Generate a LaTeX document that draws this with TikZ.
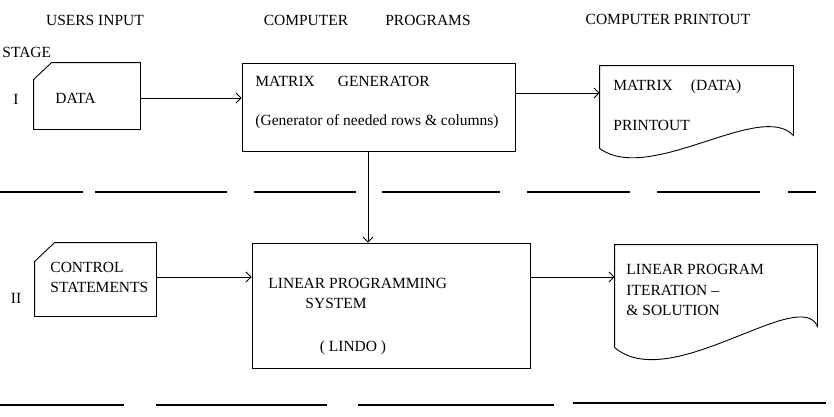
\documentclass[tikz,border=0pt]{standalone}
\usepackage{fontspec}
\setmainfont{Liberation Serif}
\usepackage{tikz}
\usetikzlibrary{arrows.meta, positioning}

\begin{document}
\begin{tikzpicture}[
  x=1pt, y=-1pt,
  line width=0.9pt,
  txt/.style={inner sep=0pt, font=\fontsize{15.5}{20}\selectfont, align=left},
  head/.style={txt},
  outline/.style={draw=none, inner sep=0pt},
  prog/.style={draw, inner sep=0pt},
  rule/.style={line width=1.1pt},
  arr/.style={-{Straight Barb[length=5pt, width=10pt]}}]
\useasboundingbox (0,0) rectangle (834,416);
\node[head] (users) at (95,20) {USERS INPUT};
\node[head] (comp) at (306,20) {COMPUTER};
\node[head] (progs) at (428,20) {PROGRAMS};
\node[head] (printhd) at (668,19) {COMPUTER PRINTOUT};
\node[txt, anchor=west] (stage) at (2,52) {STAGE};
\node[txt] (one) at (16,99) {I};
\node[txt] (two) at (16,298) {II};
\node[outline, minimum width=106pt, minimum height=66pt] (data) at (87,96) {};
\draw ([yshift=-17pt]data.north west) -- ([xshift=18pt]data.north west) -- (data.north east)
  -- (data.south east) -- (data.south west) -- cycle;
\node[txt, anchor=west] (datatxt) at (55,98) {DATA};
\node[prog, minimum width=273pt, minimum height=88pt] (matgen) at (378.5,107) {};
\node[txt, anchor=west] (matgentxt) at (255,81) {MATRIX\hspace{23pt}GENERATOR};
\node[txt, anchor=west] (matgensub) at (255,122) {(Generator of needed rows \& columns)};
\node[outline, minimum width=193pt, minimum height=82pt] (matprint) at (696.5,107) {};
\draw (matprint.south west) -- (matprint.north west) -- (matprint.north east)
  -- ([yshift=13pt]matprint.south east) .. controls (760,100) and (650,185) .. (matprint.south west);
\node[txt, anchor=west] (matprinttxt) at (613,87) {MATRIX\hspace{18pt}(DATA)};
\node[txt, anchor=west] (matprintsub) at (613,125) {PRINTOUT};
\node[outline, minimum width=121pt, minimum height=73pt] (ctrl) at (95.5,279.5) {};
\draw ([yshift=-19pt]ctrl.north west) -- ([xshift=20pt]ctrl.north west) -- (ctrl.north east)
  -- (ctrl.south east) -- (ctrl.south west) -- cycle;
\node[txt, anchor=north west] (ctrltxt) at (50,262) {CONTROL\\STATEMENTS};
\node[prog, minimum width=278pt, minimum height=125pt] (lp) at (391,305.5) {};
\node[txt, anchor=west] (lptxt) at (268,283) {LINEAR PROGRAMMING};
\node[txt, anchor=west] (lpsys) at (305,303) {SYSTEM};
\node[txt] (lindo) at (353,348) {( LINDO )};
\node[outline, minimum width=202pt, minimum height=102pt] (lpprint) at (716,296) {};
\draw (lpprint.south west) -- (lpprint.north west) -- (lpprint.north east)
  -- ([yshift=21pt]lpprint.south east) .. controls (800,285) and (670,395) .. (lpprint.south west);
\node[txt, anchor=north west, font=\fontsize{15.5}{20.5}\selectfont] (lpprinttxt) at (626,264)
  {LINEAR PROGRAM\\ITERATION --\\\& SOLUTION};
\draw[arr] ([yshift=-2pt]data.east) -- ([yshift=-2pt]data.east -| matgen.west);
\draw[arr] ([yshift=14pt]matgen.east) -- ([yshift=14pt]matgen.east -| matprint.west);
\draw[arr] ([xshift=-10.5pt]matgen.south) -- ([xshift=-10.5pt]matgen.south |- lp.north);
\draw[arr] ([yshift=2.5pt]ctrl.east) -- ([yshift=2.5pt]ctrl.east -| lp.west);
\draw[arr] ([yshift=28.5pt]lp.east) -- ([yshift=28.5pt]lp.east -| lpprint.west);
\draw[rule] (0,192) -- (83,192) (95,192) -- (227,192) (254,192) -- (356,192)
  (382,192) -- (500,192) (527,192) -- (630,192) (657,192) -- (760,192) (788,192) -- (816,192);
\draw[rule] (0,405) -- (124,405) (156,405) -- (327,405) (358,405) -- (554,405)
  (573,403) -- (826,403);
\end{tikzpicture}
\end{document}
